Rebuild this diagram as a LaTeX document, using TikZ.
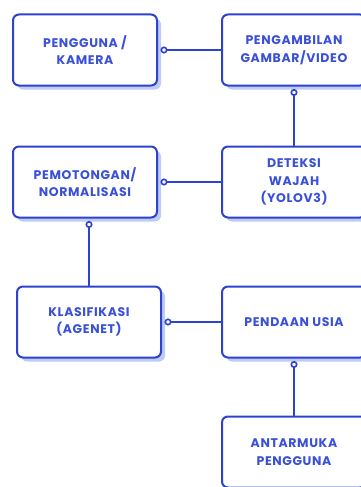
\documentclass[tikz,border=0pt]{standalone}
\usepackage{fontspec}
\setmainfont{Poppins}
\usepackage{tikz}
\usetikzlibrary{arrows.meta,shadows}
\definecolor{flowblue}{HTML}{2D43D0}
\definecolor{textblue}{HTML}{3A50D8}
\definecolor{shadeblue}{HTML}{BECCF3}
\tikzset{
  stage/.style={draw=flowblue, fill=white, rounded corners=6pt, line width=2pt,
    minimum width=144pt, minimum height=71pt, inner sep=2pt, align=center,
    font=\fontsize{12.5}{17.5}\selectfont\bfseries\addfontfeature{LetterSpace=5},
    text=textblue,
    drop shadow={shadow xshift=4pt, shadow yshift=-4pt, fill=shadeblue, opacity=1}},
  % connector with the open ring at its end
  link/.style={-{Circle[open, fill=white, length=7pt, width=7pt, line width=1.6pt]},
    line width=2pt, color=flowblue, shorten >=2.5pt},
}
\begin{document}
\begin{tikzpicture}[x=1pt,y=1pt]
  \useasboundingbox (0,0) rectangle (360,-487);
  \node[stage] (pengguna) at (85,-50) {PENGGUNA /\\KAMERA};
  \node[stage] (pengambilan) at (294,-50) {PENGAMBILAN\\GAMBAR/VIDEO};
  \node[stage] (pemotongan) at (85,-182) {PEMOTONGAN/\\NORMALISASI};
  \node[stage] (deteksi) at (294,-182) {DETEKSI\\WAJAH\\(YOLOV3)};
  \node[stage] (klasifikasi) at (89,-322) {KLASIFIKASI\\(AGENET)};
  \node[stage] (pendaan) at (294,-322) {PENDAAN USIA};
  \node[stage] (antarmuka) at (294,-452) {ANTARMUKA\\PENGGUNA};
  \draw[link] (pengambilan) -- (pengguna);
  \draw[link] (deteksi) -- (pengambilan);
  \draw[link] (deteksi) -- (pemotongan);
  \draw[link] (klasifikasi.north) -- (klasifikasi.north |- pemotongan.south);
  \draw[link] (pendaan) -- (klasifikasi);
  \draw[link] (antarmuka) -- (pendaan);
\end{tikzpicture}
\end{document}
